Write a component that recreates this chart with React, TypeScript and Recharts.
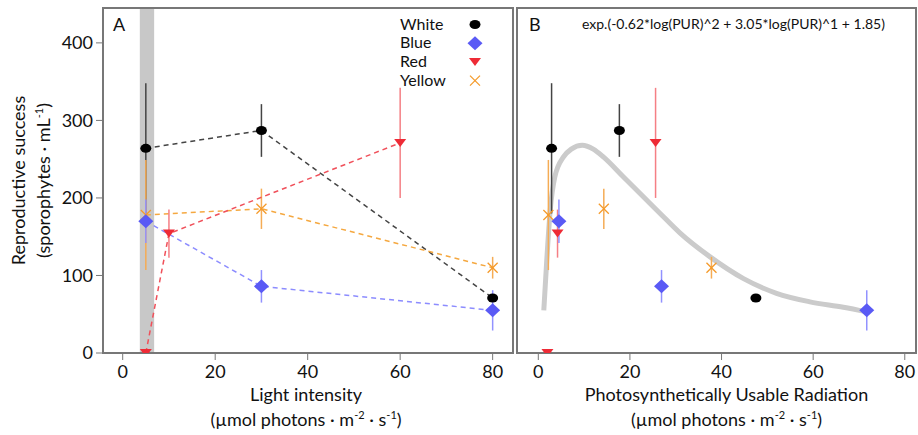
import { ComposedChart, Line, Scatter, XAxis, YAxis, ErrorBar, ReferenceArea, Legend, Label } from 'recharts';

const FONT = 'Lato, "Open Sans", sans-serif';

// white / blue / yellow were grown at 5, 30, 80; red at 5, 10, 60
const whiteLight = [5, 30, 80];
const whitePUR = [2.9, 17.7, 47.5];
const whiteMean = [264, 287, 71];
const whiteErr = [84, 34, 0];

const blueLight = [5, 30, 80];
const bluePUR = [4.5, 26.9, 71.7];
const blueMean = [170, 86, 55];
const blueErr = [28, 21, 26];

const redLight = [5, 10, 60];
const redPUR = [2.0, 4.2, 25.6];
const redMean = [0, 154, 271];
const redErr = [0, 31, 71];

const yellowLight = [5, 30, 80];
const yellowPUR = [2.2, 14.3, 37.8];
const yellowMean = [178, 186, 110];
const yellowErr = [71, 26, 14];

// grey fitted curve in panel B
const fitPUR = [1.2, 1.8, 2.6, 3.6, 5.5, 7.2, 9.6, 12.0, 14.2, 18.6, 23.7, 26.6, 30.9, 37.5, 44.8, 52, 59.3, 66.6, 71.7];
const fitValue = [55, 115, 184, 227, 253, 263, 268, 263, 253, 227, 197, 180, 155, 124, 96, 77, 66, 59, 53];

const yTicks = [0, 100, 200, 300, 400];
const xTicks = [0, 20, 40, 60, 80];
const legendNames = ['White', 'Blue', 'Red', 'Yellow'];

const yDomain: [number, number] = [0, 445];
const xDomainA: [number, number] = [-4.26, 84.4];
const xDomainB: [number, number] = [-4.65, 82.45];

const rows = (xs: number[], ys: number[], es: number[]) =>
  xs.map((x, i) => ({ x, y: ys[i], err: es[i] }));

const fitRows = fitPUR.map((x, i) => ({ x, y: fitValue[i] }));

const COL = {
  white: { mark: '#000', line: '#444', err: '#444' },
  blue: { mark: '#5a5af5', line: '#8c8cff', err: '#9292ff' },
  red: { mark: '#ee2b36', line: '#f0505a', err: '#f57f85' },
  yellow: { mark: '#f59a2a', line: '#f5a840', err: '#f5ac55' },
};

const Ellipse = ({ cx, cy }: any) => <ellipse cx={cx} cy={cy} rx={5.5} ry={4.5} fill={COL.white.mark} />;
const Diamond = ({ cx, cy }: any) => (
  <polygon points={`${cx},${cy - 7} ${cx + 7.5},${cy} ${cx},${cy + 7} ${cx - 7.5},${cy}`} fill={COL.blue.mark} />
);
const TriDown = ({ cx, cy }: any) => (
  <polygon points={`${cx - 6},${cy - 4} ${cx + 6},${cy - 4} ${cx},${cy + 4}`} fill={COL.red.mark} />
);
const Cross = ({ cx, cy }: any) => (
  <g stroke={COL.yellow.mark} strokeWidth={1.3}>
    <line x1={cx - 5} y1={cy - 5} x2={cx + 5} y2={cy + 5} />
    <line x1={cx - 5} y1={cy + 5} x2={cx + 5} y2={cy - 5} />
  </g>
);

const dotOf = (Shape: any) => (p: any) => <Shape key={`d${p.index}`} cx={p.cx} cy={p.cy} />;

const tickStyle = { fill: '#111', fontSize: 18, fontFamily: FONT };

const unitLine = (x: number, y: number) => (
  <text x={x} y={y} textAnchor="middle" fill="#111" fontSize={18} fontFamily={FONT}>
    (µmol photons · m<tspan dy={-7} fontSize={11}>-2</tspan>
    <tspan dy={7}> · s</tspan>
    <tspan dy={-7} fontSize={11}>-1</tspan>
    <tspan dy={7}>)</tspan>
  </text>
);

const xTitle = (title: string, shift: number) => (props: any) => {
  const { x, y, width } = props.viewBox;
  const cx = x + width / 2 + shift;
  return (
    <g>
      <text x={cx} y={y + 48} textAnchor="middle" fill="#111" fontSize={18} fontFamily={FONT}>{title}</text>
      {unitLine(cx, y + 73)}
    </g>
  );
};

const yTitle = (props: any) => {
  const { x, y, height } = props.viewBox;
  const cy = y + height / 2;
  const x1 = x - 28;
  const x2 = x - 3;
  return (
    <g fill="#111" fontSize={18} fontFamily={FONT}>
      <text x={x1} y={cy} textAnchor="middle" transform={`rotate(-90, ${x1}, ${cy})`}>Reproductive success</text>
      <text x={x2} y={cy} textAnchor="middle" transform={`rotate(-90, ${x2}, ${cy})`}>
        (sporophytes · mL<tspan dy={-7} fontSize={11}>-1</tspan>
        <tspan dy={7}>)</tspan>
      </text>
    </g>
  );
};

const LegendBox = () => {
  const shapes = [Ellipse, Diamond, TriDown, Cross];
  return (
    <svg width={100} height={86}>
      {legendNames.map((n, i) => {
        const S = shapes[i];
        const base = 21.5 + i * 18.7;
        return (
          <g key={n}>
            <text x={10} y={base} fill="#111" fontSize={16} fontFamily={FONT}>{n}</text>
            <S cx={85} cy={base - 5} />
          </g>
        );
      })}
    </svg>
  );
};

function PanelA() {
  return (
    <ComposedChart width={515} height={435} margin={{ top: 8, right: 2, bottom: 0, left: 53 }}>
      <XAxis type="number" dataKey="x" domain={xDomainA} ticks={xTicks} interval={0} allowDataOverflow
        height={82} tickSize={7} tickMargin={5} stroke="#777" tick={tickStyle} axisLine={false}>
        <Label content={xTitle('Light intensity', -2)} />
      </XAxis>
      <YAxis type="number" domain={yDomain} ticks={yTicks} interval={0} allowDataOverflow
        width={50} tickSize={7} tickMargin={3} stroke="#777" tick={tickStyle} axisLine={false}>
        <Label content={yTitle} />
      </YAxis>
      <ReferenceArea x1={3.7} x2={6.8} y1={0} y2={445} fill="#c8c8c8" fillOpacity={1} stroke="none" />
      <ReferenceArea x1={xDomainA[0]} x2={xDomainA[1]} y1={0} y2={445} fill="none" stroke="#777" strokeWidth={2}>
        <Label content={(p: any) => (
          <text x={p.viewBox.x + 10} y={p.viewBox.y + 23} fill="#111" fontSize={18} fontFamily={FONT}>A</text>
        )} />
      </ReferenceArea>

      <Line data={rows(whiteLight, whiteMean, whiteErr)} dataKey="y" type="linear" stroke={COL.white.line}
        strokeWidth={1.5} strokeDasharray="5 4" dot={dotOf(Ellipse)} activeDot={false} isAnimationActive={false}>
        <ErrorBar dataKey="err" width={0} stroke={COL.white.err} strokeWidth={1.5} />
      </Line>
      <Line data={rows(yellowLight, yellowMean, yellowErr)} dataKey="y" type="linear" stroke={COL.yellow.line}
        strokeWidth={1.5} strokeDasharray="5 4" dot={dotOf(Cross)} activeDot={false} isAnimationActive={false}>
        <ErrorBar dataKey="err" width={0} stroke={COL.yellow.err} strokeWidth={1.5} />
      </Line>
      <Line data={rows(redLight, redMean, redErr)} dataKey="y" type="linear" stroke={COL.red.line}
        strokeWidth={1.5} strokeDasharray="5 4" dot={dotOf(TriDown)} activeDot={false} isAnimationActive={false}>
        <ErrorBar dataKey="err" width={0} stroke={COL.red.err} strokeWidth={1.5} />
      </Line>
      <Line data={rows(blueLight, blueMean, blueErr)} dataKey="y" type="linear" stroke={COL.blue.line}
        strokeWidth={1.5} strokeDasharray="5 4" dot={dotOf(Diamond)} activeDot={false} isAnimationActive={false}>
        <ErrorBar dataKey="err" width={0} stroke={COL.blue.err} strokeWidth={1.5} />
      </Line>

      <Legend layout="vertical" align="center" verticalAlign="middle" content={() => <LegendBox />}
        wrapperStyle={{ left: 390, top: 8, width: 100, height: 86 }} />
    </ComposedChart>
  );
}

function PanelB() {
  return (
    <ComposedChart width={458} height={435} margin={{ top: 8, right: 2, bottom: 0, left: 7 }}>
      <XAxis type="number" dataKey="x" domain={xDomainB} ticks={xTicks} interval={0} allowDataOverflow
        height={82} tickSize={7} tickMargin={5} stroke="#777" tick={tickStyle} axisLine={false}>
        <Label content={xTitle('Photosynthetically Usable Radiation', 10)} />
      </XAxis>
      <YAxis type="number" domain={yDomain} ticks={yTicks} interval={0} allowDataOverflow
        width={50} tickSize={7} stroke="#777" tick={false} axisLine={false} />
      <ReferenceArea x1={xDomainB[0]} x2={xDomainB[1]} y1={0} y2={445} fill="none" stroke="#777" strokeWidth={2}>
        <Label content={(p: any) => (
          <g fill="#111" fontFamily={FONT}>
            <text x={p.viewBox.x + 12} y={p.viewBox.y + 23} fontSize={18}>B</text>
            <text x={p.viewBox.x + 65} y={p.viewBox.y + 20.5} fontSize={14}>
              exp.(-0.62*log(PUR)^2 + 3.05*log(PUR)^1 + 1.85)
            </text>
          </g>
        )} />
      </ReferenceArea>

      <Line data={fitRows} dataKey="y" type="monotone" stroke="#cbcbcb" strokeWidth={5}
        dot={false} activeDot={false} isAnimationActive={false} />

      <Scatter data={rows(whitePUR, whiteMean, whiteErr)} dataKey="y" shape={Ellipse} isAnimationActive={false}>
        <ErrorBar dataKey="err" direction="y" width={0} stroke={COL.white.err} strokeWidth={1.5} />
      </Scatter>
      <Scatter data={rows(yellowPUR, yellowMean, yellowErr)} dataKey="y" shape={Cross} isAnimationActive={false}>
        <ErrorBar dataKey="err" direction="y" width={0} stroke={COL.yellow.err} strokeWidth={1.5} />
      </Scatter>
      <Scatter data={rows(redPUR, redMean, redErr)} dataKey="y" shape={TriDown} isAnimationActive={false}>
        <ErrorBar dataKey="err" direction="y" width={0} stroke={COL.red.err} strokeWidth={1.5} />
      </Scatter>
      <Scatter data={rows(bluePUR, blueMean, blueErr)} dataKey="y" shape={Diamond} isAnimationActive={false}>
        <ErrorBar dataKey="err" direction="y" width={0} stroke={COL.blue.err} strokeWidth={1.5} />
      </Scatter>
    </ComposedChart>
  );
}

export default function App() {
  return (
    <div style={{ position: 'absolute', left: 0, top: 0, width: 918, height: 435, background: '#fff', fontFamily: FONT }}>
      <div style={{ position: 'absolute', left: 0, top: 0 }}>
        <PanelA />
      </div>
      <div style={{ position: 'absolute', left: 460, top: 0 }}>
        <PanelB />
      </div>
    </div>
  );
}
